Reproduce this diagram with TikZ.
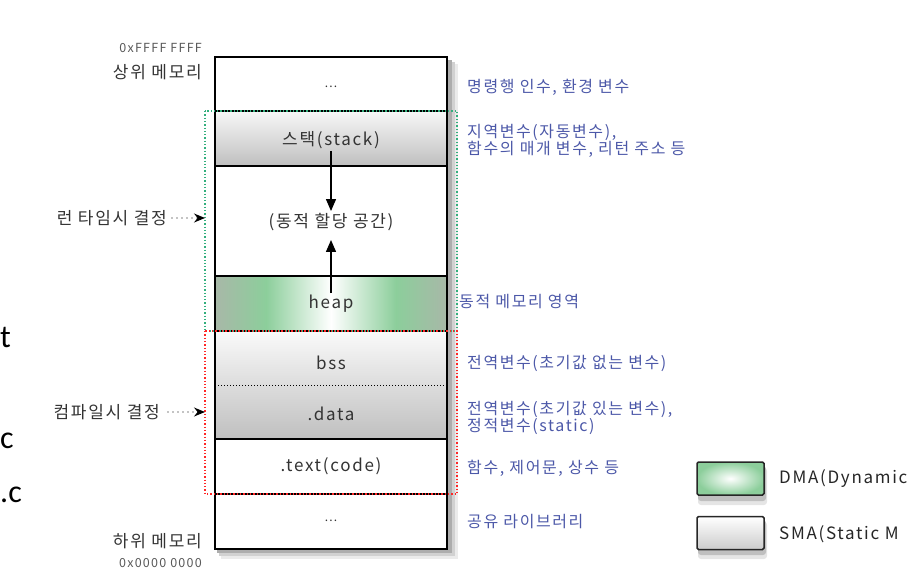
\documentclass[tikz,border=0pt]{standalone}
\usepackage{fontspec}
\setmainfont{Noto Sans CJK KR}[LetterSpace=10]
\newfontfamily\fragfont{Carlito}
\usepackage{tikz}
\usetikzlibrary{arrows.meta}
\usepackage{xcolor}

\definecolor{notecol}{RGB}{76,88,168}
\definecolor{heapedge}{RGB}{168,184,168}
\definecolor{heapgreen}{RGB}{140,206,155}
\definecolor{runframe}{RGB}{50,175,125}
\pgfdeclarehorizontalshading{heapshade}{100bp}{color(0bp)=(heapedge); color(25bp)=(heapedge); color(36bp)=(heapgreen); color(50bp)=(white); color(64bp)=(heapgreen); color(75bp)=(heapedge); color(100bp)=(heapedge)}

\tikzset{
  cell/.style={font=\fontsize{17}{19}\selectfont, text=black!80, inner sep=2pt},
  note/.style={anchor=west, align=left, inner sep=0pt, text=notecol, font=\fontsize{16}{17}\selectfont},
  side/.style={anchor=east, inner sep=0pt, text=black!80, font=\fontsize{17}{19}\selectfont},
  addr/.style={anchor=east, inner sep=0pt, text=black!65, font=\fontsize{12.5}{14}\selectfont},
  frag/.style={anchor=west, inner sep=0pt, font=\fragfont\fontsize{32}{34}\selectfont},
  legendbox/.style={draw=black!85, line width=1.5pt, rounded corners=1.5pt, minimum width=67pt, minimum height=33pt},
  softshadow/.style={fill=black!#1, rounded corners=3pt},
  growarrow/.style={-{Triangle[width=10pt,length=12pt]}, line width=1.3pt},
  decide/.style={-{Stealth[width=9pt,length=11pt]}, line width=1.4pt, dash pattern=on 0pt off 5pt, line cap=round},
}

\begin{document}
\begin{tikzpicture}[x=1pt,y=-1pt]
        \useasboundingbox (0,0) rectangle (907,584);
        \clip (0,0) rectangle (907,584);

        % memory column, with its shadow
        \fill[black!8] (221,64) rectangle (458,559);
        \fill[black!18] (219,62) rectangle (455,556);
        \fill[black!32] (217,60) rectangle (452,553);
        \fill[white] (215,57) rectangle (447,549);
        \shade[top color=gray!6, bottom color=gray!50] (215,111) rectangle (447,166);
        \shade[shading=heapshade] (215,276) rectangle (447,331);
        \shade[top color=gray!4, bottom color=gray!50] (215,331) rectangle (447,439);
        \foreach \y in {111,166,276,331,439,494}
            \draw[line width=1.4pt] (215,\y) -- (447,\y);
        \draw[line width=1pt, dotted] (215,385) -- (447,385);
        \draw[line width=1.6pt] (215,57) rectangle (447,549);

        % run time / compile time frames
        \draw[dotted, line width=1.3pt, runframe] (205,111) rectangle (457,331);
        \draw[dotted, line width=1.3pt, red!85] (205,331) rectangle (457,494);

        \node[cell, font=\fontsize{12}{14}\selectfont] (topdots) at (331,87) {...};
        \node[cell] (stack) at (331,140) {스택(stack)};
        \node[cell] (dyn) at (331,222) {(동적 할당 공간)};
        \node[cell] (heap) at (331,304) {heap};
        \node[cell] (bss) at (331,363) {bss};
        \node[cell] (data) at (331,414) {.data};
        \node[cell] (text) at (331,466) {.text(code)};
        \node[cell, font=\fontsize{12}{14}\selectfont] (botdots) at (331,521) {...};

        \draw[growarrow] (stack) -- (dyn);
        \draw[growarrow, shorten >=7pt] (heap) -- (dyn);

        % left side
        \node[addr] (hiaddr) at (202,48) {0xFFFF FFFF};
        \node[side] (himem) at (202,72) {상위 메모리};
        \node[side] (runtime) at (167,218) {런 타임시 결정};
        \coordinate (runtip) at (205,218);
        \draw[decide] (runtime.east) ++(5,0) -- (runtip);
        \node[side] (compile) at (160,412) {컴파일시 결정};
        \coordinate (comptip) at (205,412);
        \draw[decide] (compile.east) ++(8,0) -- (comptip);
        \node[side] (lomem) at (202,541) {하위 메모리};
        \node[addr] (loaddr) at (202,563) {0x0000 0000};

        % right side notes
        \node[note] (argnote) at (467,87) {명령행 인수, 환경 변수};
        \node[note] (stacknote) at (467,141) {지역변수(자동변수),\\함수의 매개 변수, 리턴 주소 등};
        \node[note] (heapnote) at (459,302) {동적 메모리 영역};
        \node[note] (bssnote) at (467,363) {전역변수(초기값 없는 변수)};
        \node[note] (datanote) at (467,418) {전역변수(초기값 있는 변수),\\정적변수(static)};
        \node[note] (textnote) at (467,468) {함수, 제어문, 상수 등};
        \node[note] (libnote) at (467,522) {공유 라이브러리};

        % legend
        \foreach \boxtop in {462,516} {
            \fill[softshadow=10] (698,\boxtop+6) rectangle (767,\boxtop+43);
            \fill[softshadow=25] (698,\boxtop+4) rectangle (766,\boxtop+39);
        }
        \node[legendbox, inner color=white, outer color=heapgreen] (dmabox) at (730.5,478.5) {};
        \node[anchor=west, inner sep=0pt, text=black!85, font=\fontsize{17}{19}\selectfont] (dmatext) at (779,479) {DMA(Dynamic};
        \node[legendbox, top color=white, bottom color=gray!40] (smabox) at (730.5,533) {};
        \node[anchor=west, inner sep=0pt, text=black!85, font=\fontsize{17}{19}\selectfont] (smatext) at (779,534) {SMA(Static M};

        % letters at the left edge
        \node[frag] (fragt) at (0,337) {t};
        \node[frag] (fragc) at (0,441) {c};
        \node[frag] (fragdc) at (0,495) {.c};
\end{tikzpicture}
\end{document}
